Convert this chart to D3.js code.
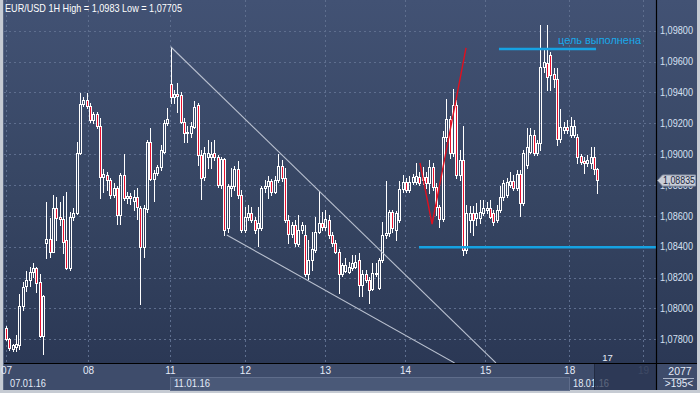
<!DOCTYPE html>
<html><head><meta charset="utf-8">
<script src="https://cdn.jsdelivr.net/npm/d3@7/dist/d3.min.js"></script>
<style>body{margin:0;background:#3e4c6b;} svg{display:block} text{font-family:"Liberation Sans",Arial,sans-serif;}</style>
</head><body>
<svg id="c" width="700" height="393"></svg>
<script>
// ---------------- DATA ----------------
const titleText = "EUR/USD 1H High = 1,0983 Low = 1,07705";
const opens = [1.07872,1.07800,1.07737,1.07752,1.07763,1.08018,1.08146,1.08185,1.08234,1.08264,
1.08170,1.07822,1.08422,1.08448,1.08368,1.08649,1.08595,1.08578,1.08444,1.08260,
1.08595,1.08617,1.09006,1.09325,1.09351,1.09312,1.09221,1.09258,1.09183,1.08854,
1.08865,1.08833,1.08735,1.08779,1.08606,1.08865,1.08714,1.08731,1.08698,1.08724,
1.08649,1.08400,1.08643,1.09081,1.08839,1.08876,1.08915,1.09016,1.09200,1.09455,
1.09370,1.09390,1.09383,1.09210,1.09135,1.09139,1.09178,1.09319,1.08995,1.08852,
1.08980,1.08982,1.09006,1.08982,1.08800,1.08967,1.08521,1.08781,1.08794,1.08902,
1.08735,1.08509,1.08595,1.08621,1.08573,1.08519,1.08519,1.08779,1.08794,1.08826,
1.08757,1.08833,1.08923,1.08844,1.08573,1.08483,1.08541,1.08418,1.08509,1.08476,
1.08224,1.08314,1.08379,1.08498,1.08552,1.08530,1.08573,1.08476,1.08422,1.08368,
1.08224,1.08245,1.08238,1.08260,1.08271,1.08314,1.08152,1.08224,1.08185,1.08124,
1.08228,1.08131,1.08314,1.08476,1.08489,1.08627,1.08509,1.08573,1.08772,1.08822,
1.08768,1.08822,1.08822,1.08854,1.08833,1.08854,1.08811,1.08919,1.08789,1.08658,
1.08578,1.09113,1.09226,1.09008,1.09319,1.08865,1.08962,1.08379,1.08573,1.08617,
1.08586,1.08584,1.08617,1.08638,1.08649,1.08617,1.08573,1.08638,1.08724,1.08735,
1.08800,1.08828,1.08779,1.08872,1.08682,1.08930,1.09016,1.09124,1.09010,1.09070,
1.09567,1.09593,1.09643,1.09518,1.09485,1.09096,1.09157,1.09178,1.09124,1.09124,
1.09113,1.08988,1.08958,1.08943,1.08945,1.08984,1.08902];
const highs = [1.07887,1.07809,1.07770,1.07828,1.08092,1.08174,1.08245,1.08267,1.08297,1.08271,
1.08222,1.08087,1.08688,1.08588,1.08735,1.08724,1.08688,1.08729,1.08753,1.08625,
1.08653,1.09081,1.09398,1.09370,1.09398,1.09332,1.09275,1.09273,1.09233,1.08902,
1.08884,1.08846,1.08813,1.08794,1.08878,1.09001,1.08755,1.08750,1.08768,1.08779,
1.08664,1.08671,1.09092,1.09168,1.08897,1.08930,1.09059,1.09221,1.09297,1.09696,
1.09416,1.09459,1.09403,1.09234,1.09183,1.09208,1.09345,1.09332,1.09027,1.09046,
1.09092,1.09079,1.09092,1.08995,1.08982,1.08975,1.08807,1.08910,1.08923,1.08956,
1.08768,1.08656,1.08671,1.08660,1.08593,1.08656,1.08794,1.08833,1.08859,1.08839,
1.08859,1.08999,1.08962,1.08908,1.08606,1.08560,1.08573,1.08606,1.08560,1.08541,
1.08444,1.08498,1.08595,1.08763,1.08625,1.08638,1.08606,1.08496,1.08444,1.08385,
1.08297,1.08327,1.08301,1.08347,1.08347,1.08362,1.08249,1.08249,1.08204,1.08293,
1.08293,1.08327,1.08562,1.08826,1.08638,1.08638,1.08632,1.08826,1.08865,1.08846,
1.08859,1.08872,1.08941,1.08884,1.08919,1.08884,1.08962,1.08943,1.08813,1.08671,
1.09150,1.09356,1.09247,1.09422,1.09351,1.09027,1.09183,1.08671,1.08664,1.08664,
1.08684,1.08703,1.08703,1.08690,1.08703,1.08638,1.08671,1.08794,1.08833,1.08846,
1.08884,1.08865,1.08897,1.08897,1.09027,1.09170,1.09170,1.09157,1.09092,1.09837,
1.09688,1.09837,1.09662,1.09558,1.09556,1.09291,1.09208,1.09221,1.09243,1.09221,
1.09131,1.09001,1.08982,1.08995,1.09048,1.09048,1.08910];
const lows = [1.07796,1.07731,1.07727,1.07727,1.07735,1.07990,1.08115,1.08146,1.08206,1.08109,
1.07817,1.07705,1.08329,1.08336,1.08366,1.08444,1.08541,1.08362,1.08258,1.08249,
1.08573,1.08612,1.09001,1.09312,1.09299,1.09208,1.09202,1.09170,1.08714,1.08757,
1.08768,1.08716,1.08722,1.08547,1.08547,1.08703,1.08684,1.08677,1.08638,1.08578,
1.08029,1.08334,1.08625,1.08833,1.08698,1.08865,1.08897,1.09008,1.09189,1.09330,
1.09332,1.09273,1.09202,1.09081,1.09081,1.09111,1.09170,1.08930,1.08710,1.08833,
1.08910,1.08908,1.08962,1.08787,1.08781,1.08476,1.08496,1.08729,1.08768,1.08716,
1.08496,1.08496,1.08573,1.08560,1.08489,1.08405,1.08509,1.08755,1.08716,1.08735,
1.08748,1.08820,1.08826,1.08560,1.08422,1.08463,1.08405,1.08405,1.08489,1.08211,
1.08189,1.08249,1.08366,1.08489,1.08509,1.08509,1.08457,1.08405,1.08360,1.08098,
1.08211,1.08236,1.08230,1.08249,1.08262,1.08081,1.08081,1.08172,1.08034,1.08120,
1.08211,1.08124,1.08301,1.08457,1.08470,1.08496,1.08444,1.08560,1.08755,1.08755,
1.08755,1.08807,1.08807,1.08800,1.08807,1.08781,1.08748,1.08768,1.08606,1.08530,
1.08567,1.09085,1.08975,1.08988,1.08846,1.08833,1.08347,1.08360,1.08496,1.08476,
1.08541,1.08554,1.08606,1.08619,1.08586,1.08541,1.08560,1.08625,1.08703,1.08722,
1.08787,1.08768,1.08768,1.08599,1.08671,1.08910,1.09008,1.08995,1.08995,1.09027,
1.09532,1.09416,1.09416,1.09435,1.09059,1.09079,1.09137,1.09137,1.09111,1.09111,
1.08941,1.08936,1.08876,1.08923,1.08910,1.08872,1.08746];
const closes = [1.07800,1.07742,1.07763,1.07770,1.08018,1.08141,1.08185,1.08234,1.08264,1.08163,
1.07822,1.08081,1.08448,1.08368,1.08649,1.08588,1.08578,1.08433,1.08260,1.08593,
1.08617,1.09006,1.09325,1.09351,1.09312,1.09221,1.09258,1.09183,1.08854,1.08870,
1.08833,1.08735,1.08779,1.08606,1.08865,1.08714,1.08731,1.08714,1.08720,1.08660,
1.08400,1.08649,1.09081,1.08839,1.08876,1.08915,1.09027,1.09200,1.09226,1.09369,
1.09390,1.09377,1.09210,1.09135,1.09144,1.09183,1.09308,1.08995,1.08844,1.09006,
1.09006,1.09004,1.08982,1.08800,1.08967,1.08509,1.08794,1.08794,1.08902,1.08735,
1.08509,1.08595,1.08621,1.08573,1.08509,1.08552,1.08779,1.08794,1.08826,1.08757,
1.08833,1.08923,1.08844,1.08573,1.08483,1.08541,1.08422,1.08509,1.08541,1.08224,
1.08314,1.08384,1.08498,1.08552,1.08530,1.08578,1.08476,1.08422,1.08368,1.08224,
1.08282,1.08282,1.08271,1.08293,1.08303,1.08152,1.08224,1.08185,1.08120,1.08228,
1.08232,1.08314,1.08476,1.08489,1.08627,1.08519,1.08617,1.08772,1.08822,1.08768,
1.08822,1.08854,1.08859,1.08815,1.08854,1.08811,1.08919,1.08789,1.08660,1.08578,
1.09113,1.09226,1.09008,1.09319,1.08865,1.08962,1.08379,1.08617,1.08617,1.08573,
1.08617,1.08627,1.08649,1.08649,1.08595,1.08562,1.08638,1.08720,1.08811,1.08822,
1.08828,1.08779,1.08872,1.08685,1.09006,1.09048,1.09124,1.09010,1.09070,1.09567,
1.09599,1.09502,1.09513,1.09485,1.09096,1.09178,1.09178,1.09157,1.09183,1.09183,
1.08984,1.08951,1.08941,1.08962,1.08980,1.08902,1.08835];

const priceTicks = [1.078,1.080,1.082,1.084,1.086,1.088,1.090,1.092,1.094,1.096,1.098];
const dayLabels = ["07","08","11","12","13","14","15","18","19"];
const dayBars   = [0,24.4,48.8,71.1,94.9,118.75,142.6,167.6,189.6];
const dateLabels = ["07.01.16","11.01.16","18.01.16"];
const dateBars   = [0,48.8,167.6];
const lastPrice = 1.08835;
// annotation lines (bar index, price)
const upperChannel = [[49.0,1.09696],[145.8,1.07647]];
const lowerChannel = [[65.7,1.08476],[133.5,1.07647]];
const redPath = [[123.2,1.08943],[126.8,1.08547],[136.9,1.09688]];
const targetLine = [[146.7,1.09681],[175.6,1.09681]];
const supportLine = [[122.9,1.08397],[193.5,1.08397]];
const targetLabel = {text:"цель выполнена", bar:164.3, price:1.09711};
const futureBars = "17";
const cornerTop = "2077", cornerBottom = ">195<";

// ---------------- CHART ----------------
const svg = d3.select("#c");
const PL=4, PR=656, PT=0, PB=363;
const x = d3.scaleLinear().domain([0,176]).range([6,597.4]);
const y = d3.scaleLinear().domain([1.078,1.098]).range([339.3,30.7]);
const fmt = d => d3.format(".5f")(d).replace(".",",");
const yp = Math.round(y(lastPrice));

const defs = svg.append("defs");
const gr = defs.append("linearGradient").attr("id","bg").attr("x1",0).attr("y1",0).attr("x2",0).attr("y2",1);
gr.append("stop").attr("offset","0%").attr("stop-color","#425274");
gr.append("stop").attr("offset","55%").attr("stop-color","#364562");
gr.append("stop").attr("offset","100%").attr("stop-color","#2b3855");
defs.append("clipPath").attr("id","clip").append("rect").attr("x",PL).attr("y",PT).attr("width",PR-PL).attr("height",PB-PT);
// axis labels partly hidden beneath the last-price marker (coords local to the axis group)
defs.append("clipPath").attr("id","axisClip").append("path")
  .attr("d",`M0,0 H45 V${yp-5} H0 Z M0,${yp+6.5} H45 V${PB} H0 Z`);

// frame & backgrounds
svg.append("rect").attr("width",700).attr("height",393).attr("fill","#c6cbd3");
svg.append("rect").attr("x",3).attr("y",0).attr("width",694).attr("height",390).attr("fill","#3e4c6b");
svg.append("rect").attr("x",PL).attr("y",0).attr("width",697-PL).attr("height",PB).attr("fill","url(#bg)");
svg.append("line").attr("x1",3.5).attr("x2",3.5).attr("y1",0).attr("y2",390).attr("stroke","#5a6884");

// week band in date row
svg.append("rect").attr("x",Math.round(x(dateBars[1]))+0.5).attr("y",377.5)
  .attr("width",Math.round(x(dateBars[2]))-Math.round(x(dateBars[1]))).attr("height",13)
  .attr("fill","#4a5978").attr("stroke","#5f6d8b");

// grid
const grid = svg.append("g").attr("stroke","#5e6e8e").attr("stroke-dasharray","2,3").attr("stroke-width",1);
priceTicks.forEach(t=>{
  const yy=Math.round(y(t))+0.5;
  grid.append("line").attr("x1",PL).attr("x2",PR).attr("y1",yy).attr("y2",yy);
});
dayBars.forEach(b=>{
  const xx=Math.round(x(b))+0.5;
  grid.append("line").attr("x1",xx).attr("x2",xx).attr("y1",PT).attr("y2",PB);
});

// candles
const cg = svg.append("g").attr("clip-path","url(#clip)").attr("shape-rendering","crispEdges");
closes.forEach((c,i)=>{
  const o=opens[i], h=highs[i], l=lows[i];
  const px=Math.round(x(i));
  const yt=Math.round(y(Math.max(o,c))), yb=Math.round(y(Math.min(o,c)));
  const yh=Math.round(y(h)), yl=Math.round(y(l));
  const bear = c<o;
  if (yh<yt) cg.append("line").attr("x1",px+0.5).attr("x2",px+0.5).attr("y1",yh).attr("y2",yt).attr("stroke","#ffffff");
  if (yl>yb) cg.append("line").attr("x1",px+0.5).attr("x2",px+0.5).attr("y1",yb+1).attr("y2",yl+1).attr("stroke","#ffffff");
  cg.append("rect").attr("x",px-0.5).attr("y",yt+0.5).attr("width",2).attr("height",Math.max(1,yb-yt))
    .attr("fill",bear?"#e8102e":"none").attr("stroke","#ffffff").attr("stroke-width",1);
});

// annotation lines
const line = d3.line().x(d=>x(d[0])).y(d=>y(d[1]));
const ag = svg.append("g").attr("clip-path","url(#clip)").attr("fill","none");
ag.append("path").attr("d",line(upperChannel)).attr("stroke","#b9c0cf").attr("stroke-width",1.1);
ag.append("path").attr("d",line(lowerChannel)).attr("stroke","#b9c0cf").attr("stroke-width",1.1);
ag.append("path").attr("d",line(redPath)).attr("stroke","#e0101f").attr("stroke-width",1.4);
ag.append("path").attr("d",line(targetLine)).attr("stroke","#16a2e2").attr("stroke-width",2.4);
ag.append("path").attr("d",line(supportLine)).attr("stroke","#16a2e2").attr("stroke-width",2.4);
svg.append("text").attr("x",x(targetLabel.bar)).attr("y",y(targetLabel.price))
  .attr("fill","#19a8ea").attr("font-size","11px").attr("textLength",83).attr("lengthAdjust","spacingAndGlyphs")
  .text(targetLabel.text);

// bottom area
svg.append("line").attr("x1",PL).attr("x2",697).attr("y1",PB+0.5).attr("y2",PB+0.5).attr("stroke","#000").attr("stroke-width",1.2);
const xa = svg.append("g").attr("transform",`translate(0,${PB})`)
  .call(d3.axisBottom(x).tickValues(dayBars).tickFormat((d,i)=>dayLabels[i]).tickSize(0).tickPadding(4));
xa.select(".domain").remove();
xa.selectAll("text").attr("font-size","10px").attr("font-family","Liberation Sans, Arial, sans-serif")
  .attr("fill",(d,i)=>i===dayLabels.length-1?"#7b88a3":"#e4ebf8");
dateLabels.forEach((t,i)=>{
  svg.append("text").attr("x",Math.round(x(dateBars[i]))+4).attr("y",386.5).attr("fill","#e4ebf8")
    .attr("font-size","10px").attr("textLength",36).attr("lengthAdjust","spacingAndGlyphs").text(t);
});
// dim overlay for future region
svg.append("rect").attr("x",594).attr("y",PB+1).attr("width",PR-594).attr("height",390-PB-1)
  .attr("fill","#27324d").attr("opacity",0.72);
svg.append("line").attr("x1",594.5).attr("x2",594.5).attr("y1",PB+1).attr("y2",390).attr("stroke","#222b42");
svg.append("text").attr("x",607.5).attr("y",361).attr("text-anchor","middle").attr("fill","#e8eef8")
  .attr("font-size","9.5px").text(futureBars);

// right axis
svg.append("line").attr("x1",PR+0.5).attr("x2",PR+0.5).attr("y1",0).attr("y2",390).attr("stroke","#000").attr("stroke-width",1.2);
const ya = svg.append("g").attr("transform",`translate(${PR},0)`).attr("clip-path","url(#axisClip)")
  .call(d3.axisRight(y).tickValues(priceTicks).tickFormat(fmt).tickSize(0).tickPadding(4));
ya.select(".domain").remove();
ya.selectAll("text").attr("fill","#d6e0f2").attr("font-size","10px").attr("font-family","Liberation Sans, Arial, sans-serif")
  .attr("textLength",33).attr("lengthAdjust","spacingAndGlyphs");

// current price marker
svg.append("path").attr("d",`M657.5,${yp+0.5} L662.5,${yp-5} L695.5,${yp-5} L695.5,${yp+6} L662.5,${yp+6} Z`)
  .attr("fill","#c9ced8").attr("stroke","#8d96a8");
svg.append("text").attr("x",663).attr("y",yp+4).attr("fill","#1b2740").attr("font-size","10px")
  .attr("textLength",32).attr("lengthAdjust","spacingAndGlyphs").text(fmt(lastPrice));

// corner box
svg.append("text").attr("x",680).attr("y",375).attr("text-anchor","middle").attr("fill","#e4ebf8").attr("font-size","10.5px").text(cornerTop);
svg.append("line").attr("x1",663).attr("x2",694).attr("y1",378.5).attr("y2",378.5).attr("stroke","#c8d0e0").attr("stroke-width",0.8);
svg.append("text").attr("x",679).attr("y",387).attr("text-anchor","middle").attr("fill","#e4ebf8").attr("font-size","10px").text(cornerBottom);

// title
svg.append("text").attr("x",5).attr("y",12).attr("fill","#ffffff").attr("font-size","11px")
  .attr("textLength",177).attr("lengthAdjust","spacingAndGlyphs").text(titleText);
</script>
</body></html>
